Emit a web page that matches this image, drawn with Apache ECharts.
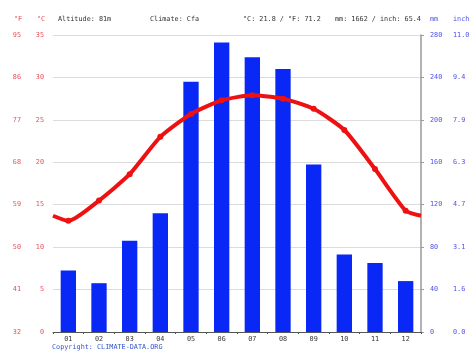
<!DOCTYPE html>
<html><head><meta charset="utf-8">
<script src="https://cdn.jsdelivr.net/npm/echarts@6/dist/echarts.min.js"></script>
<style>html,body{margin:0;padding:0;background:#fff}#c{width:474px;height:355px}</style>
</head><body><div id="c"></div>
<script>
const months = ['01','02','03','04','05','06','07','08','09','10','11','12'];
const precipMm = [58, 46, 86, 112, 236, 273, 259, 248, 158, 73, 65, 48];
const tempC = [13.1, 15.5, 18.6, 23.0, 25.7, 27.3, 27.9, 27.5, 26.3, 23.8, 19.2, 14.3];
const fLabels = ['32','41','50','59','68','77','86','95'];
const inchLabels = ['0.0','1.6','3.1','4.7','6.3','7.9','9.4','11.0'];
const headerTexts = ['Altitude: 81m','Climate: Cfa','°C: 21.8 / °F: 71.2','mm: 1662 / inch: 65.4'];

const MONO = 'DejaVu Sans Mono';
const red = '#e8505a', blue = '#5050e8';
const fs = 6.8;

// line data on a continuous axis: points at category centers, wrapped ends
const edge = (tempC[0] + tempC[11]) / 2;
const lineData = [[0, edge]].concat(tempC.map((v,i)=>[i+0.5, v])).concat([[12, edge]]);

const chart = echarts.init(document.getElementById('c'), null, {renderer:'canvas'});
const txt = (x, y, s, color) => ({type:'text', left:x, top:y, style:{text:s, fill:color, font: fs+'px "'+MONO+'"'}});
chart.setOption({
  animation:false,
  grid:{left:53, right:53, top:35, bottom:23},
  xAxis:[
    {type:'category', data:months, axisLine:{lineStyle:{color:'#555'}},
     axisTick:{show:true, length:2, lineStyle:{color:'#555'}},
     axisLabel:{color:'#333', fontFamily:MONO, fontSize:fs, margin:4}},
    {type:'value', min:0, max:12, show:false}
  ],
  yAxis:[
    {type:'value', min:0, max:35, interval:5, position:'left',
     axisLine:{show:false}, axisTick:{show:false},
     splitLine:{lineStyle:{color:'#dcdcdc'}},
     axisLabel:{color:red, fontFamily:MONO, fontSize:fs, margin:9}},
    {type:'value', min:0, max:35, interval:5, position:'left', offset:23,
     axisLine:{show:false}, axisTick:{show:false}, splitLine:{show:false},
     axisLabel:{color:red, fontFamily:MONO, fontSize:fs, margin:9,
       formatter:(v)=>fLabels[Math.round(v/5)]}},
    {type:'value', min:0, max:280, interval:40, position:'right',
     axisLine:{show:true, lineStyle:{color:'#999', width:1.5}},
     axisTick:{show:true, length:3, lineStyle:{color:'#999'}}, splitLine:{show:false},
     axisLabel:{color:blue, fontFamily:MONO, fontSize:fs, margin:9}},
    {type:'value', min:0, max:280, interval:40, position:'right', offset:23,
     axisLine:{show:false}, axisTick:{show:false}, splitLine:{show:false},
     axisLabel:{color:blue, fontFamily:MONO, fontSize:fs, margin:9,
       formatter:(v)=>inchLabels[Math.round(v/40)]}}
  ],
  series:[
    {type:'bar', data:precipMm, xAxisIndex:0, yAxisIndex:2, barWidth:'50%',
     itemStyle:{color:'#0a28f5'}},
    {type:'line', data:lineData, xAxisIndex:1, yAxisIndex:0, smooth:0.2,
     lineStyle:{color:'#ee1111', width:4}, itemStyle:{color:'#ee1111'},
     symbol:'circle', symbolSize:(v,p)=> (p.dataIndex===0||p.dataIndex===13)?0:6, z:5}
  ],
  graphic:[
    txt(14, 16, '°F', red), txt(37, 16, '°C', red),
    txt(58, 16, headerTexts[0], '#333'),
    txt(150, 16, headerTexts[1], '#333'),
    txt(243, 16, headerTexts[2], '#333'),
    txt(335, 16, headerTexts[3], '#333'),
    txt(430, 16, 'mm', blue), txt(453, 16, 'inch', blue),
    txt(52, 344, 'Copyright: CLIMATE-DATA.ORG', '#3355cc')
  ]
});
</script></body></html>
